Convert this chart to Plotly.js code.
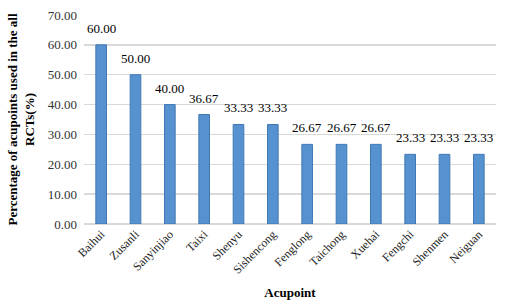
<!DOCTYPE html>
<html><head><meta charset="utf-8">
<script src="https://cdn.plot.ly/plotly-3.0.1.min.js"></script>
<style>body{margin:0;background:#fff}#c{width:510px;height:306px}</style>
</head><body><div id="c"></div>
<script>
const categories = ["Baihui","Zusanli","Sanyinjiao","Taixi","Shenyu","Sishencong","Fenglong","Taichong","Xuehai","Fengchi","Shenmen","Neiguan"];
const values = [60.00,50.00,40.00,36.67,33.33,33.33,26.67,26.67,26.67,23.33,23.33,23.33];
const yTicks = [0,10,20,30,40,50,60,70];
const font = "Liberation Serif, Times New Roman, serif";
Plotly.newPlot('c',[{
  type:'bar', x:categories, y:values,
  marker:{color:'#5692cf', line:{color:'#4178b4', width:1}},
  hoverinfo:'none'
}],{
  width:510,height:306,margin:{l:84,r:14,t:15,b:82},
  paper_bgcolor:'#fff',plot_bgcolor:'#fff',bargap:0.69,showlegend:false,
  font:{family:font,size:13,color:'#222'},
  annotations:categories.map((c,i)=>({x:c,y:values[i],xref:'x',yref:'y',text:values[i].toFixed(2),
    showarrow:false,yanchor:'bottom',yshift:7,font:{family:font,size:13,color:'#000'}})),
  xaxis:{tickangle:-45,tickfont:{family:font,size:12,color:'#222'},showline:false,ticks:'',
    title:{text:'<b>Acupoint</b>',font:{family:font,size:13,color:'#000'},standoff:12}},
  yaxis:{range:[0,70],tickvals:yTicks,ticktext:yTicks.map(v=>v.toFixed(2)),
    gridcolor:'#d9d9d9',gridwidth:1.5,zeroline:true,zerolinecolor:'#d9d9d9',zerolinewidth:1.5,
    ticks:'',ticklabelstandoff:6,tickfont:{family:font,size:13,color:'#333'},
    title:{text:'<b>Percentage of acupoints used in the all<br>RCTs(%)</b>',font:{family:font,size:13,color:'#000'},standoff:10}}
},{staticPlot:true});
</script></body></html>
